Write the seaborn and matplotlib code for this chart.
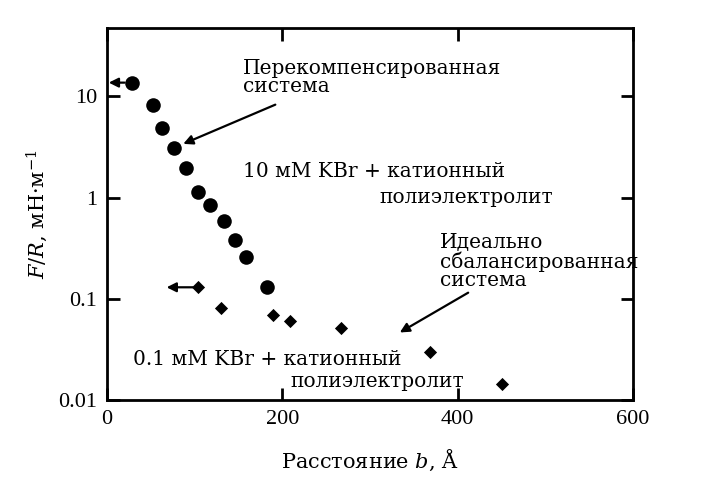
import numpy as np
import pandas as pd
import matplotlib
matplotlib.use("Agg")
import matplotlib.pyplot as plt
import seaborn as sns

# data
b_over = [28, 52, 63, 76, 90, 104, 118, 133, 146, 158, 182]
f_over = [13.7, 8.3, 4.9, 3.1, 1.95, 1.15, 0.85, 0.59, 0.38, 0.26, 0.13]

b_bal = [104, 130, 189, 209, 267, 368, 450]
f_bal = [0.13, 0.081, 0.069, 0.061, 0.051, 0.0295, 0.0143]

x_ticks = [0, 200, 400, 600]
y_ticks = [0.01, 0.1, 1, 10]
y_tick_labels = ["0.01", "0.1", "1", "10"]

df_over = pd.DataFrame({"b": b_over, "f": f_over})
df_bal = pd.DataFrame({"b": b_bal, "f": f_bal})

sns.set_style("ticks", {"axes.edgecolor": "black", "text.color": "black",
                        "axes.labelcolor": "black", "xtick.color": "black",
                        "ytick.color": "black"})
plt.rcParams['font.family'] = ['DejaVu Serif']
plt.rcParams['mathtext.fontset'] = 'dejavuserif'

fig = plt.figure(figsize=(7.17, 4.88), dpi=100)
ax = fig.add_axes([107 / 717, 1 - 400 / 488, (633 - 107) / 717, (400 - 28) / 488])

sns.scatterplot(data=df_over, x="b", y="f", ax=ax, marker="o", s=110,
                color="black", edgecolor="black", linewidth=0, zorder=3)
sns.scatterplot(data=df_bal, x="b", y="f", ax=ax, marker="D", s=45,
                color="black", edgecolor="black", linewidth=0, zorder=3)

ax.set_yscale("log")
ax.set_xlim(0, 600)
ax.set_ylim(0.01, 47.5)
ax.set_xticks(x_ticks)
ax.set_yticks(y_ticks)
ax.set_yticklabels(y_tick_labels)
ax.yaxis.set_minor_locator(matplotlib.ticker.NullLocator())
ax.tick_params(which="major", direction="in", length=9, width=2,
               top=True, right=True, labelsize=16, pad=7, colors="black")
for lab in ax.get_xticklabels() + ax.get_yticklabels():
    lab.set_family("Liberation Serif")
for sp in ax.spines.values():
    sp.set_linewidth(2)
    sp.set_color("black")

ax.set_xlabel(r"Расстояние $b$, Å", fontsize=15, labelpad=14, color="black")
ax.set_ylabel(r"$F/R$, мН·м$^{-1}$", fontsize=15, labelpad=6, color="black")

arrow = dict(arrowstyle="-|>", color="black", lw=1.6, mutation_scale=14,
             shrinkA=0, shrinkB=0)
# arrows to the axis
ax.annotate("", xy=(2, 13.7), xytext=(20, 13.7), arrowprops=arrow)
ax.annotate("", xy=(68, 0.13), xytext=(98, 0.13), arrowprops=arrow)

ax.annotate("", xy=(87, 3.4), xytext=(192, 8.3), arrowprops=arrow)
ax.annotate("", xy=(334, 0.0465), xytext=(412, 0.115), arrowprops=arrow)

fs = 14.5
ax.text(155, 15.3, "Перекомпенсированная\nсистема", fontsize=fs,
        ha="left", va="center", linespacing=0.95, color="black")
ax.text(155, 1.81, "10 мМ KBr + катионный", fontsize=fs, ha="left", va="center",
        color="black")
ax.text(311, 1.0, "полиэлектролит", fontsize=fs, ha="left", va="center",
        color="black")
ax.text(380, 0.233, "Идеально\nсбалансированная\nсистема", fontsize=fs,
        ha="left", va="center", linespacing=0.95, color="black")
ax.text(30, 0.0251, "0.1 мМ KBr + катионный", fontsize=fs, ha="left",
        va="center", color="black")
ax.text(209, 0.0153, "полиэлектролит", fontsize=fs, ha="left", va="center",
        color="black")

plt.savefig("out.png", dpi=100)
